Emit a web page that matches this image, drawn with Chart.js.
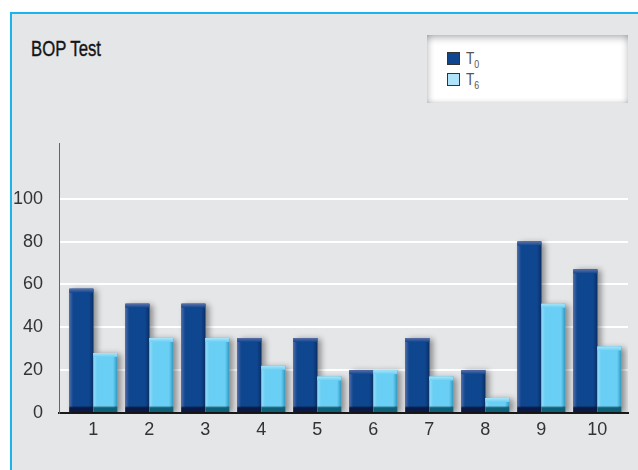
<!DOCTYPE html>
<html>
<head>
<meta charset="utf-8">
<script src="https://cdn.jsdelivr.net/npm/chart.js@4"></script>
<style>
  html, body { margin:0; padding:0; width:638px; height:470px; overflow:hidden; background:#ffffff; }
  #frame { position:absolute; left:10px; top:12px; width:628px; height:458px; background:#e5e6e8;
           border-left:2px solid #1cb4ec; border-top:2px solid #1cb4ec; box-sizing:border-box; }
  #title { position:absolute; left:31px; top:36px; font-family:"Liberation Sans",sans-serif;
           font-size:22px; color:#151515; white-space:nowrap; transform:scaleX(0.76); transform-origin:0 0;
           -webkit-text-stroke:0.4px #151515; }
  #legend { position:absolute; left:427px; top:35px; width:201px; height:68px; background:#ffffff;
            box-shadow: inset 0 7px 7px -4px rgba(0,0,0,0.28), inset 6px 0 6px -4px rgba(0,0,0,0.18),
                        inset -6px 0 6px -4px rgba(0,0,0,0.15), inset 0 -5px 5px -4px rgba(0,0,0,0.15); }
  .item { position:absolute; left:20px; height:14px; font-family:"Liberation Sans",sans-serif;
          font-size:17px; color:#555; line-height:14px; white-space:nowrap; }
  .sw { position:absolute; left:0; top:0; width:11px; height:11px; border:1px solid #333; }
  .lbl { position:absolute; left:19px; top:0px; transform:scaleX(0.8); transform-origin:0 0; }
  .lbl sub { font-size:11px; vertical-align:-4px; }
  #c { position:absolute; left:0; top:0; }
</style>
</head>
<body>
<div id="frame"></div>
<div id="title">BOP Test</div>
<div id="legend">
  <div class="item" style="top:17px"><div class="sw" style="background:#0f4690"></div><div class="lbl">T<sub>0</sub></div></div>
  <div class="item" style="top:38px"><div class="sw" style="background:#aee3fa"></div><div class="lbl">T<sub>6</sub></div></div>
</div>
<canvas id="c" width="638" height="470"></canvas>
<script>
const categories = ["1","2","3","4","5","6","7","8","9","10"];
const seriesT0 = [58, 51, 51, 35, 35, 20, 35, 20, 80, 67];
const seriesT6 = [28, 35, 35, 22, 17, 20, 17, 7, 51, 31];
const yTickValues = [0, 20, 40, 60, 80, 100];
const seriesNames = ["T0", "T6"];

const colors = [
  { main:"#0f4690", light:"#4f6aa6", dark:"#0a2f66", cap:"#5b6fa6", bottom:"#0a1a45" },
  { main:"#6acff4", light:"#93dcf6", dark:"#2f98c0", cap:"#a8e4f8", bottom:"#0e5f78" }
];

const barFx = {
  id: "barFx",
  beforeDatasetsDraw(chart) {
    const ctx = chart.ctx;
    ctx.save();
    ctx.shadowColor = "rgba(0,0,0,0.4)";
    ctx.shadowBlur = 6;
    ctx.shadowOffsetX = 4;
    ctx.shadowOffsetY = 1;
  },
  afterDatasetsDraw(chart) {
    const ctx = chart.ctx;
    ctx.restore();
    ctx.save();
    chart.data.datasets.forEach((ds, di) => {
      const c = colors[di];
      chart.getDatasetMeta(di).data.forEach(el => {
        const p = el.getProps(["x","y","base","width"], true);
        const l = p.x - p.width/2, w = p.width, t = p.y, b = p.base, h = b - t;
        const g = ctx.createLinearGradient(l, 0, l + w, 0);
        g.addColorStop(0, c.light);
        g.addColorStop(0.16, c.main);
        g.addColorStop(0.82, c.main);
        g.addColorStop(1, c.dark);
        ctx.fillStyle = g;
        ctx.fillRect(l, t, w, h);
        const cap = Math.min(4, h);
        const g3 = ctx.createLinearGradient(0, t, 0, t + cap);
        g3.addColorStop(0, c.cap);
        g3.addColorStop(1, c.main);
        ctx.fillStyle = g3;
        ctx.fillRect(l, t, w, cap);
        const bb = Math.min(6, h);
        const g2 = ctx.createLinearGradient(0, b - bb, 0, b);
        g2.addColorStop(0, "rgba(0,0,0,0)");
        g2.addColorStop(0.35, c.bottom);
        g2.addColorStop(1, c.bottom);
        ctx.fillStyle = g2;
        ctx.fillRect(l, b - bb, w, bb);
      });
    });
    ctx.restore();
  }
};

const fontFam = "'Liberation Sans',sans-serif";

new Chart(document.getElementById("c"), {
  type: "bar",
  data: {
    datasets: [
      { label: seriesNames[0], data: categories.map((c,i)=>({x:i+1, y:seriesT0[i]})), backgroundColor: colors[0].main, borderWidth:0 },
      { label: seriesNames[1], data: categories.map((c,i)=>({x:i+1, y:seriesT6[i]})), backgroundColor: colors[1].main, borderWidth:0 }
    ]
  },
  plugins: [barFx],
  options: {
    responsive: false,
    animation: false,
    layout: { padding: { left:0, top:143, right:10, bottom:0 } },
    categoryPercentage: 0.857,
    barPercentage: 1,
    plugins: { legend: { display:false }, title: { display:false }, tooltip: { enabled:false } },
    scales: {
      x: {
        type: "linear",
        offset: false,
        min: 0.387,
        max: 10.548,
        afterBuildTicks: s => { s.ticks = categories.map((c,i)=>({value:i+1})); },
        afterFit: s => { s.height = 57; },
        grid: { display:false, drawTicks:false, offset:false },
        border: { display:true, color:"#1a1a1a", width:2 },
        ticks: { padding: 6, color:"#333", font:{ family:fontFam, size:18 }, callback: (v) => categories[Math.round(v)-1] }
      },
      y: {
        min: 0,
        max: 126,
        afterBuildTicks: s => { s.ticks = yTickValues.map(v=>({value:v})); },
        afterFit: s => { s.width = 59; },
        grid: { color:"#ffffff", lineWidth:2, drawTicks:false },
        border: { display:true, color:"#666666", width:1 },
        ticks: { padding: 16, color:"#333", font:{ family:fontFam, size:18 } }
      }
    }
  }
});
</script>
</body>
</html>
